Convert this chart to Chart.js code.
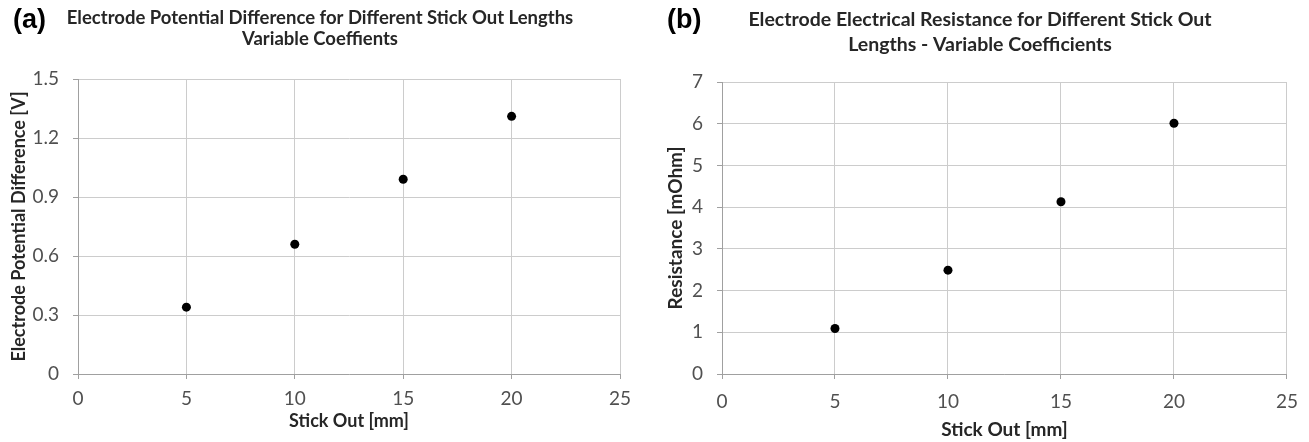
<!DOCTYPE html>
<html><head><meta charset="utf-8">
<script src="https://cdn.jsdelivr.net/npm/chart.js@4.4.1/dist/chart.umd.min.js"></script>
<style>
html,body{margin:0;padding:0;background:#fff;width:1309px;height:442px;overflow:hidden}
.panel{position:absolute;top:0}
canvas{display:block}
</style></head><body>
<div class="panel" style="left:0;width:654px;height:442px"><canvas id="cA" width="654" height="442"></canvas></div>
<div class="panel" style="left:654px;width:655px;height:442px"><canvas id="cB" width="655" height="442"></canvas></div>
<script>
// ---- data ----
const stickOut = [5, 10, 15, 20];
const potentialV = [0.34, 0.66, 0.99, 1.31];
const resistanceMOhm = [1.09, 2.49, 4.13, 6.01];
const xTicks = [0, 5, 10, 15, 20, 25];
const yTicksA = [0, 0.3, 0.6, 0.9, 1.2, 1.5];
const yTicksB = [0, 1, 2, 3, 4, 5, 6, 7];
const titleA = ['Electrode Potential Difference for Different Stick Out Lengths', 'Variable Coeffients'];
const titleB = ['Electrode Electrical Resistance for Different Stick Out', 'Lengths - Variable Coefficients'];
const panelLabelA = '(a)';
const panelLabelB = '(b)';
const xTitle = 'Stick Out [mm]';
const yTitleA = 'Electrode Potential Difference [V]';
const yTitleB = 'Resistance [mOhm]';

// ---- header plugin (panel letter + two-line title) ----
const headerPlugin = {
  id: 'header',
  afterDraw(chart, args, o) {
    const ctx = chart.ctx;
    ctx.save();
    ctx.textBaseline = 'middle';
    ctx.textAlign = 'left';
    ctx.fillStyle = '#000';
    ctx.font = 'bold 27px "Liberation Sans", Arial, sans-serif';
    ctx.fillText(o.label, o.labelX, o.labelY);
    ctx.textAlign = 'center';
    ctx.fillStyle = '#262626';
    ctx.font = 'bold ' + o.size + 'px Lato, sans-serif';
    o.lines.forEach((t, i) => ctx.fillText(t, o.cx, o.lineY[i]));
    ctx.restore();
  }
};

const AXIS = '#a0a0a0', GRID = '#cccccc', TICKTXT = '#505050', TITLE = '#262626';

function build(id, o) {
  return new Chart(document.getElementById(id), {
    type: 'scatter',
    data: { datasets: [{
      data: o.xs.map((x, i) => ({ x: x, y: o.ys[i] })),
      pointRadius: 4.5, pointHoverRadius: 4.5,
      pointBackgroundColor: '#000', pointBorderColor: '#000', pointBorderWidth: 0,
      showLine: false
    }]},
    options: {
      responsive: false, animation: false, devicePixelRatio: 1,
      layout: { padding: { top: o.top, right: o.right, left: 0, bottom: 0 } },
      plugins: {
        legend: { display: false }, tooltip: { enabled: false },
        header: o.header
      },
      scales: {
        x: {
          type: 'linear', min: 0, max: 25,
          afterBuildTicks: s => { s.ticks = xTicks.map(v => ({ value: v })); },
          afterFit: s => { s.height = 68; },
          grid: { color: GRID, lineWidth: 1, tickLength: 5, tickColor: AXIS },
          border: { color: AXIS, width: 1 },
          ticks: { color: TICKTXT, font: { family: 'Lato', size: 19 }, padding: o.xTickPad, maxRotation: 0,
                   callback: v => String(v) },
          title: { display: true, text: xTitle, color: TITLE,
                   font: { family: 'Lato', size: o.axisTitleSize, weight: 'bold' }, padding: { top: 0, bottom: o.xTitlePad } }
        },
        y: {
          type: 'linear', min: o.yTicks[0], max: o.yTicks[o.yTicks.length - 1],
          afterBuildTicks: s => { s.ticks = o.yTicks.map(v => ({ value: v })); },
          afterFit: s => { s.width = o.yWidth; },
          grid: { color: GRID, lineWidth: 1, tickLength: 5, tickColor: AXIS },
          border: { color: AXIS, width: 1 },
          ticks: { color: TICKTXT, font: { family: 'Lato', size: 19 }, padding: 14,
                   callback: v => String(v) },
          title: { display: true, text: o.yTitle, color: TITLE,
                   font: { family: 'Lato', size: o.axisTitleSize, weight: 'bold' }, padding: { top: o.yTitlePad, bottom: 0 } }
        }
      }
    },
    plugins: [headerPlugin]
  });
}

function go() {
  build('cA', {
    xs: stickOut, ys: potentialV, yTicks: yTicksA, yTitle: yTitleA, axisTitleSize: 18,
    top: 79, right: 34, yWidth: 78, yTitlePad: 8, xTitlePad: 10, xTickPad: 8,
    header: { label: panelLabelA, labelX: 13, labelY: 21, lines: titleA, cx: 320, lineY: [18, 39], size: 18.5 }
  });
  build('cB', {
    xs: stickOut, ys: resistanceMOhm, yTicks: yTicksB, yTitle: yTitleB, axisTitleSize: 19,
    top: 82, right: 20, yWidth: 68, yTitlePad: 10.5, xTitlePad: 1, xTickPad: 11,
    header: { label: panelLabelB, labelX: 13, labelY: 21, lines: titleB, cx: 326, lineY: [20, 45], size: 19.5 }
  });
}
if (document.fonts && document.fonts.load) {
  Promise.all([document.fonts.load('19px Lato'), document.fonts.load('bold 16px Lato'),
               document.fonts.load('bold 24px "Liberation Sans"')]).then(go, go);
} else { go(); }
</script>
</body></html>
